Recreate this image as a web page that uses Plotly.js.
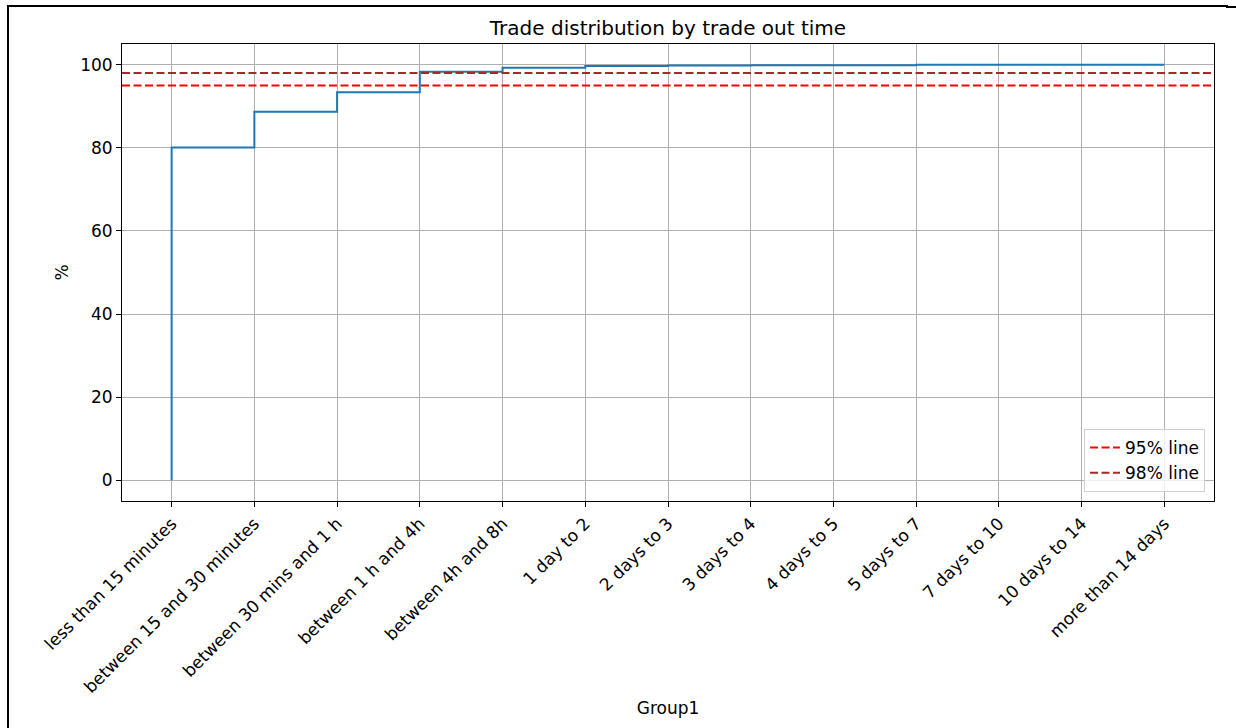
<!DOCTYPE html>
<html>
<head>
<meta charset="utf-8">
<script src="https://cdn.plot.ly/plotly-3.0.1.min.js"></script>
<style>
  html, body { margin: 0; padding: 0; background: #fff; }
  #wrap { position: relative; width: 1236px; height: 728px; overflow: hidden; }
  #chart { position: absolute; left: 0; top: 0; width: 1236px; height: 728px; }
  #frameL { position: absolute; left: 7px; top: 5px; width: 1219px; height: 740px;
            border-top: 2px solid #000; border-left: 2px solid #000; pointer-events: none; }
  #frameR { position: absolute; left: 1226px; top: 6px; width: 10px; height: 0;
            border-top: 2px solid #000; pointer-events: none; }
</style>
</head>
<body>
<div id="wrap">
  <div id="chart"></div>
  <div id="frameL"></div>
  <div id="frameR"></div>
</div>
<script>
// ---- data ----
const categories = [
  "less than 15 minutes",
  "between 15 and 30 minutes",
  "between 30 mins and 1 h",
  "between 1 h and 4h",
  "between 4h and 8h",
  "1 day to 2",
  "2 days to 3",
  "3 days to 4",
  "4 days to 5",
  "5 days to 7",
  "7 days to 10",
  "10 days to 14",
  "more than 14 days"
];
const cumulativePct = [0, 80.1, 88.7, 93.4, 98.3, 99.3, 99.7, 99.8, 99.9, 99.9, 100, 100, 100];
const line95 = 95;
const line98 = 98;
const titleText = "Trade distribution by trade out time";
const xLabel = "Group1";
const yLabel = "%";

// ---- build ----
const idx = categories.map((_, i) => i);
const n = categories.length;
const pad = 0.05 * (n - 1);
const xRange = [-pad, (n - 1) + pad];

const font = "DejaVu Sans, Liberation Sans, sans-serif";
const fs = 17;

const traces = [
  {
    x: idx, y: cumulativePct, type: "scatter", mode: "lines",
    line: { shape: "vh", color: "#1f77b4", width: 2 },
    showlegend: false, hoverinfo: "skip"
  },
  {
    x: xRange, y: [line95, line95], type: "scatter", mode: "lines",
    name: "95% line",
    line: { color: "#ff0000", width: 2, dash: "8px,3.5px" }
  },
  {
    x: xRange, y: [line98, line98], type: "scatter", mode: "lines",
    name: "98% line",
    line: { color: "#a52a2a", width: 2, dash: "8px,3.5px" }
  }
];

const layout = {
  width: 1236, height: 728,
  paper_bgcolor: "rgba(0,0,0,0)", plot_bgcolor: "#fff",
  margin: { l: 122, r: 22, t: 44, b: 227, pad: 0 },
  font: { family: font, size: fs, color: "#000" },
  title: {
    text: titleText, font: { family: font, size: 20, color: "#000" },
    x: 668 / 1236, xanchor: "center", xref: "container",
    y: 1 - 28 / 728, yanchor: "middle", yref: "container"
  },
  xaxis: {
    range: xRange, tickmode: "array", tickvals: idx, ticktext: categories,
    tickangle: -45, ticks: "outside", ticklen: 5, tickcolor: "#000", tickwidth: 1,
    showgrid: true, gridcolor: "#b0b0b0", gridwidth: 1,
    showline: true, linecolor: "#000", linewidth: 1, mirror: true,
    zeroline: false, automargin: false,
    tickfont: { family: font, size: fs, color: "#000" },
    title: { text: xLabel, font: { family: font, size: fs, color: "#000" }, standoff: 6 }
  },
  yaxis: {
    range: [-5, 105], tickmode: "array", tickvals: [0, 20, 40, 60, 80, 100],
    ticks: "outside", ticklen: 5, tickcolor: "#000", tickwidth: 1,
    showgrid: true, gridcolor: "#b0b0b0", gridwidth: 1,
    showline: true, linecolor: "#000", linewidth: 1, mirror: true,
    zeroline: false, automargin: false,
    tickfont: { family: font, size: fs, color: "#000" },
    title: { text: yLabel, font: { family: font, size: fs, color: "#000" }, standoff: 7 }
  },
  legend: {
    x: 1 - 9 / 1092, xanchor: "right", y: 9 / 457, yanchor: "bottom",
    bgcolor: "rgba(255,255,255,0.8)", bordercolor: "#d0d0d0", borderwidth: 1,
    font: { family: font, size: fs, color: "#000" }, tracegroupgap: 0
  },
  showlegend: true
};

Plotly.newPlot("chart", traces, layout, { displayModeBar: false, staticPlot: true });
</script>
</body>
</html>
